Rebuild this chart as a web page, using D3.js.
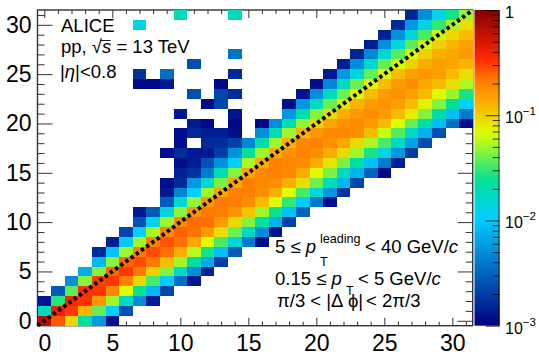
<!DOCTYPE html>
<html><head><meta charset="utf-8">
<script src="https://d3js.org/d3.v7.min.js"></script>
<style>html,body{margin:0;padding:0;background:#fff}svg{display:block}text{font-family:"Liberation Sans",Arial,sans-serif;fill:#000}</style>
</head><body><div id="chart"></div>
<script>
// log10(density) per row of the 2D histogram; rows run from y = 0 upward, null = empty bin
const firstBin = [0,0,0,1,2,3,4,4,5,6,7,7,9,9,9,10,10,9,10,10,11,10,12,11,7,7,11,14,24,25,7,10];
const logDensity = [
/* 0*/[-.2,-.58,-1.02,-1.65,-2.25,-2.9],
/* 1*/[-1.75,-.4,-.5,-.9,-1.42,-1.98,-2.6],
/* 2*/[-2.88,-1.55,-.45,-.48,-.78,-1.3,-1.78,-2.3,-2.85],
/* 3*/[-2.55,-1.44,-.47,-.5,-.72,-1.17,-1.6,-2.1,-2.65],
/* 4*/[-2.3,-1.35,-.52,-.5,-.7,-1.03,-1.47,-2,-2.45,-2.88],
/* 5*/[-2.15,-1.35,-.62,-.5,-.66,-1,-1.35,-1.8,-2.3,-2.83],
/* 6*/[-2.1,-1.33,-.62,-.55,-.66,-.93,-1.3,-1.68,-2.15,-2.7],
/* 7*/[-2.8,-2.03,-1.3,-.68,-.55,-.64,-.87,-1.25,-1.58,-2.05,-2.55],
/* 8*/[-2.85,-2,-1.3,-.7,-.57,-.64,-.85,-1.17,-1.47,-1.85,-2.4,-2.93],
/* 9*/[-2.65,-1.98,-1.28,-.72,-.6,-.65,-.8,-1.05,-1.4,-1.78,-2.3,-2.92],
/*10*/[-2.6,-1.93,-1.3,-.73,-.63,-.64,-.8,-1.03,-1.35,-1.65,-2.12,-2.68],
/*11*/[-2.88,-2.55,-1.85,-1.33,-.77,-.67,-.68,-.77,-.97,-1.3,-1.6,-2.05,-2.5],
/*12*/[-2.55,-1.82,-1.32,-.8,-.66,-.68,-.75,-.93,-1.17,-1.52,-2,-2.4,-2.92],
/*13*/[-2.88,-2.35,-1.98,-1.3,-.85,-.7,-.7,-.75,-.88,-1.17,-1.47,-1.85,-2.25,-2.75],
/*14*/[-2.92,-2.8,-2.25,-1.8,-1.38,-.85,-.7,-.72,-.75,-.87,-1.05,-1.4,-1.72,-2.1,-2.65],
/*15*/[-2.83,-2.75,-2.4,-1.72,-1.35,-.85,-.72,-.7,-.73,-.87,-1.15,-1.37,-1.75,-2.12,-2.5,-2.95],
/*16*/[-2.92,-2.85,-2.6,-2.28,-1.98,-1.27,-.87,-.7,-.72,-.74,-.87,-1.07,-1.37,-1.68,-2.05,-2.4,-2.85],
/*17*/[-2.93,-2.78,-2.88,-2.88,-2.7,-2.28,-1.65,-1.3,-.87,-.77,-.7,-.74,-.87,-1.03,-1.3,-1.57,-1.85,-2.25,-2.7],
/*18*/[-2.93,null,-2.8,-2.78,-2.68,-2.33,-1.7,-1.3,-.88,-.72,-.7,-.76,-.85,-1.03,-1.27,-1.47,-1.78,-2.2,-2.62],
/*19*/[-2.92,-2.8,-2.85,-2.85,-2.92,null,-2.3,-1.72,-1.3,-.9,-.79,-.73,-.72,-.75,-.93,-1.22,-1.45,-1.78,-2.12,-2.6],
/*20*/[-2.87,-2.95,null,-2.95,null,-2.95,-2.3,-1.72,-1.32,-1,-.84,-.76,-.74,-.8,-.92,-1.17,-1.42,-1.68,-2.07,-2.45,-2.92],
/*21*/[-2.88,null,null,null,-2.9,null,null,null,-2.25,-1.7,-1.35,-1.03,-.88,-.78,-.75,-.8,-.92,-1.1,-1.35,-1.68,-2.05,-2.4],
/*22*/[-2.95,-2.65,null,null,null,null,-2.92,-2.25,-1.75,-1.4,-1.08,-.9,-.8,-.76,-.82,-.93,-1.13,-1.35,-1.62,-1.97],
/*23*/[-2.6,null,-2.65,-2.8,null,null,null,null,-2.9,-2.3,-1.75,-1.4,-1.13,-.93,-.8,-.77,-.82,-.92,-1.15,-1.32,-1.57],
/*24*/[-2.95,-2.95,-2.88,null,null,null,-2.95,null,null,null,null,null,null,-2.92,-2.33,-1.78,-1.4,-1.13,-.93,-.8,-.74,-.85,-.93,-1.05,-1.27],
/*25*/[-2.75,null,-2.45,null,null,null,null,-2.8,null,null,null,null,null,null,-2.88,-2.25,-1.85,-1.42,-1.15,-.93,-.83,-.78,-.82,-.92,-1.05],
/*26*/[-2.6,null,null,null,null,null,null,null,null,null,null,-2.85,-2.3,-1.8,-1.42,-1.18,-1,-.87,-.82,-.85,-.9],
/*27*/[-2.42,null,null,null,null,null,null,null,null,-2.83,-2.33,-1.83,-1.44,-1.18,-1,-.88,-.84,-.8],
/*28*/[-2.85,-2.3,-1.85,-1.44,-1.2,-1,-.9,-.82],
/*29*/[-2.83,-2.28,-1.85,-1.47,-1.22,-1.03,-.93],
/*30*/[-1.9,null,null,null,null,null,null,null,null,null,null,null,null,null,null,null,null,null,null,-2.8,-2.25,-1.88,-1.52,-1.28,-1.05],
/*31*/[-1.75,null,null,null,-1.75,null,null,null,null,null,null,null,null,null,null,null,null,-2.82,-2.3,-1.93,-1.58,-1.3]
];
const xMajor = [0,5,10,15,20,25,30];
const yMajor = [0,5,10,15,20,25,30];
const xMinor = d3.range(0,32).filter(d=>d%5!==0);
const yMinor = d3.range(0,32).filter(d=>d%5!==0);
const binRange = [-0.5,31.5];
const diagonal = [-0.5,31.5];
const colorDecades = [1e-3,1e-2,1e-1,1];
const colorStops = [0,.34,.46,.61,.70,.78,.85,1];
const colorHex = ["#000082","#00cfff","#00e196","#deff00","#fab400","#ff7800","#ff2400","#820000"];

const W=539,H=359;
const m={l:37.5,r:472.7,t:10,b:325.7};
const barX0=474.5,barX1=499.7;
const x=d3.scaleLinear().domain(binRange).range([m.l,m.r]);
const y=d3.scaleLinear().domain(binRange).range([m.b,m.t]);
const tValue=t=>Math.pow(10,3*t-3);
const color=d3.scaleLog().domain(colorStops.map(tValue)).range(colorHex).clamp(true);
const cy=d3.scaleLog().domain([1e-3,1]).range([m.b,m.t]);

const svg=d3.select("#chart").append("svg").attr("width",W).attr("height",H).attr("viewBox",`0 0 ${W} ${H}`);

function styleAxis(g,size){
  g.select(".domain").remove();
  g.selectAll("line").attr("stroke","#333").attr("stroke-width",1);
  g.attr("font-family",null).attr("font-size",null);
  g.selectAll("text").attr("font-size",size);
}
const tr=(a,b)=>`translate(${a},${b})`;
// frame + ticks first: the cells paint over them, as in the reference
svg.append("rect").attr("x",m.l).attr("y",m.t).attr("width",m.r-m.l).attr("height",m.b-m.t).attr("fill","#fff").attr("stroke","#333").attr("stroke-width",1.4);
svg.append("g").attr("transform",tr(0,m.b)).call(d3.axisBottom(x).tickValues(xMajor).tickSize(-8).tickPadding(9).tickFormat(d3.format("d"))).call(styleAxis,23);
svg.append("g").attr("transform",tr(0,m.b)).call(d3.axisBottom(x).tickValues(xMinor).tickSize(-4).tickFormat("")).call(styleAxis,23);
svg.append("g").attr("transform",tr(0,m.t)).call(d3.axisTop(x).tickValues(xMajor).tickSize(-8).tickFormat("")).call(styleAxis,23);
svg.append("g").attr("transform",tr(0,m.t)).call(d3.axisTop(x).tickValues(xMinor).tickSize(-4).tickFormat("")).call(styleAxis,23);
svg.append("g").attr("transform",tr(m.l,0)).call(d3.axisLeft(y).tickValues(yMajor).tickSize(-15).tickPadding(6).tickFormat(d3.format("d"))).call(styleAxis,23);
svg.append("g").attr("transform",tr(m.l,0)).call(d3.axisLeft(y).tickValues(yMinor).tickSize(-7).tickFormat("")).call(styleAxis,23);
svg.append("g").attr("transform",tr(m.r,0)).call(d3.axisRight(y).tickValues(yMajor).tickSize(-15).tickFormat("")).call(styleAxis,23);
svg.append("g").attr("transform",tr(m.r,0)).call(d3.axisRight(y).tickValues(yMinor).tickSize(-7).tickFormat("")).call(styleAxis,23);

// cells
const cells=[];
logDensity.forEach((row,r)=>row.forEach((v,i)=>{ if(v!==null) cells.push({cx:firstBin[r]+i,cy:r,v:Math.pow(10,v)}); }));
svg.append("g").selectAll("rect").data(cells).join("rect")
  .attr("x",d=>x(d.cx-.5)).attr("y",d=>y(d.cy+.5))
  .attr("width",x(1)-x(0)).attr("height",y(0)-y(1))
  .attr("fill",d=>color(d.v)).attr("shape-rendering","crispEdges");

// diagonal
svg.append("line").attr("x1",x(diagonal[0])).attr("y1",y(diagonal[0])).attr("x2",x(diagonal[1])).attr("y2",y(diagonal[1]))
  .attr("stroke","#000").attr("stroke-width",4).attr("stroke-dasharray","3.4 3");

// colour bar
const grad=svg.append("defs").append("linearGradient").attr("id","pal").attr("x1",0).attr("x2",0).attr("y1",1).attr("y2",0);
d3.range(0,1.0001,.02).forEach(t=>grad.append("stop").attr("offset",t).attr("stop-color",color(tValue(t))));
svg.append("rect").attr("x",barX0).attr("y",m.t).attr("width",barX1-barX0).attr("height",m.b-m.t).attr("fill","url(#pal)");
svg.append("rect").attr("x",barX1-1.6).attr("y",m.t).attr("width",1.6).attr("height",m.b-m.t).attr("fill","rgba(0,0,0,.4)");
const minorVals=[];colorDecades.slice(0,3).forEach(d=>d3.range(2,10).forEach(k=>minorVals.push(d*k)));
const barAxis=g=>{g.select(".domain").remove();g.selectAll("line").attr("stroke","rgba(0,0,0,.8)").attr("stroke-width",1);};
svg.append("g").attr("transform",tr(barX1,0)).call(d3.axisRight(cy).tickValues(colorDecades).tickSize(-14).tickFormat("")).call(barAxis);
svg.append("g").attr("transform",tr(barX1,0)).call(d3.axisRight(cy).tickValues(minorVals).tickSize(-7).tickFormat("")).call(barAxis);
colorDecades.forEach(d=>{
  const e=Math.round(Math.log10(d)), yy=cy(d);
  if(e===0){ svg.append("text").attr("x",505).attr("y",yy+8).attr("font-size",16).text("1"); return; }
  const t=svg.append("text").attr("x",505).attr("y",yy+8).attr("font-size",16);
  t.append("tspan").text("10");
  t.append("tspan").attr("dy",-8).attr("font-size",11.5).text("\u2212"+(-e));
});

// annotations
const txt=(xp,yp,fs,parts)=>{
  const t=svg.append("text").attr("x",xp).attr("y",yp).attr("font-size",fs);
  parts.forEach(p=>{const s=t.append("tspan").text(p.s); if(p.i) s.attr("font-style","italic");});
  return t;
};
const FS=18.5,FSS=12.6;
txt(61,32,FS,[{s:"ALICE"}]);
txt(61,53,FS,[{s:"pp, "},{s:"\u221A"},{s:"s",i:1},{s:" = 13 TeV"}]);
svg.append("line").attr("x1",101).attr("x2",110.5).attr("y1",40.5).attr("y2",40.5).attr("stroke","#000").attr("stroke-width",.9);
txt(60,78,FS,[{s:"|"},{s:"\u03B7",i:1},{s:"|<0.8"}]);

txt(275,253,FS,[{s:"5 \u2264 "},{s:"p",i:1}]);
txt(320,243,FSS,[{s:"leading"}]);
txt(320,266,FSS,[{s:"T"}]);
txt(365,253,FS,[{s:"< 40 GeV/"},{s:"c",i:1}]);

txt(275,285,FS,[{s:"0.15 \u2264 "},{s:"p",i:1}]);
txt(346,295,FSS,[{s:"T"}]);
txt(358,285,FS,[{s:"< 5 GeV/"},{s:"c",i:1}]);

txt(277,307,FS,[{s:"\u03C0/3 < |\u0394"}]);
txt(348,307,FS,[{s:"\u03D5|"}]);
txt(366,307,FS,[{s:"< 2\u03C0/3"}]);
</script></body></html>
